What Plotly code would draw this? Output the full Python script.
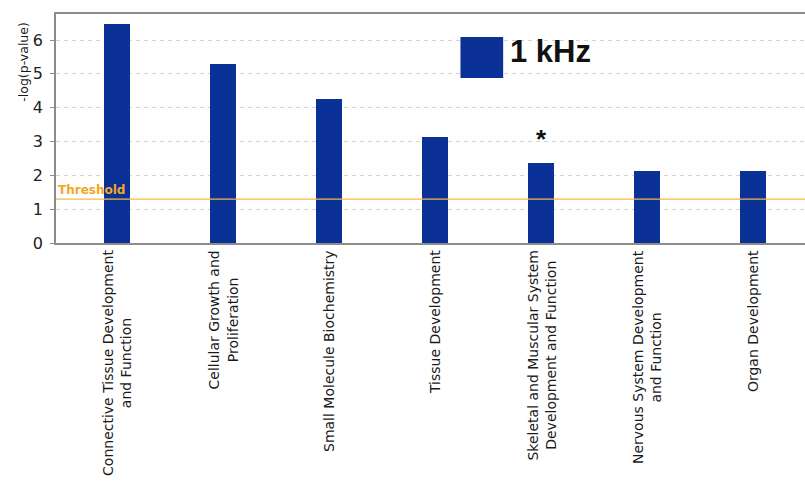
import plotly.graph_objects as go

categories = [
    "Connective Tissue Development<br>and Function",
    "Cellular Growth and<br>Proliferation",
    "Small Molecule Biochemistry",
    "Tissue Development",
    "Skeletal and Muscular System<br>Development and Function",
    "Nervous System Development<br>and Function",
    "Organ Development",
]
values = [6.47, 5.30, 4.26, 3.14, 2.37, 2.14, 2.14]
threshold = 1.3
y_ticks = [0, 1, 2, 3, 4, 5, 6]
significant_index = 4
series_name = "1 kHz"

BAR = "#0b3196"
ORANGE = "#f5a623"
FONT = "DejaVu Sans"

xs = list(range(len(categories)))

fig = go.Figure()
fig.add_trace(go.Bar(x=xs, y=values, width=0.24, marker=dict(color=BAR, line=dict(width=0)),
                     showlegend=False))

annotations = []
for i, cat in enumerate(categories):
    annotations.append(dict(x=i, y=0, xref="x", yref="paper", text=cat, textangle=-90,
                            showarrow=False, xanchor="center", yanchor="top", align="center",
                            yshift=-5,
                            font=dict(family=FONT, size=14, color="#1a1a1a")))

# asterisk
annotations.append(dict(x=significant_index, y=values[significant_index], xref="x", yref="y",
                        text="<b>*</b>", showarrow=False, yanchor="bottom", yshift=7,
                        font=dict(family="Liberation Sans", size=26, color="#111")))
# threshold label
annotations.append(dict(x=0, y=threshold, xref="paper", yref="y", text="<b>Threshold</b>",
                        showarrow=False, xanchor="left", yanchor="bottom", xshift=0, yshift=0,
                        font=dict(family=FONT, size=12, color=ORANGE)))
# y title
annotations.append(dict(x=0, y=0.975, xref="paper", yref="paper", text="-log(p-value)",
                        textangle=-90, showarrow=False, xanchor="center", yanchor="top",
                        xshift=-32, font=dict(family=FONT, size=12.5, color="#1a1a1a")))
# legend text
annotations.append(dict(x=0.603, y=0.835, xref="paper", yref="paper", text="<b>%s</b>" % series_name,
                        showarrow=False, xanchor="left", yanchor="middle",
                        font=dict(family="Liberation Sans", size=31, color="#111")))

shapes = [
    dict(type="line", xref="paper", yref="y", x0=0, x1=1, y0=threshold, y1=threshold,
         line=dict(color="#f2b84b", width=1.2), layer="above"),
    dict(type="rect", xref="paper", yref="paper", x0=0.540, x1=0.597, y0=0.72, y1=0.9,
         line=dict(width=0), fillcolor=BAR),
]

fig.update_layout(
    width=805, height=490,
    margin=dict(l=56, r=0, t=14, b=247),
    paper_bgcolor="white", plot_bgcolor="white",
    bargap=0,
    annotations=annotations, shapes=shapes,
    xaxis=dict(range=[-0.575, 6.49], showticklabels=False, ticks="", showgrid=False,
               showline=True, linecolor="#8c8c8c", linewidth=1.5, mirror=True, zeroline=False),
    yaxis=dict(range=[0, 6.77], tickvals=y_ticks, showgrid=True, gridcolor="#d4d4d4",
               griddash="4px,4px", gridwidth=1, showline=True, linecolor="#8c8c8c", linewidth=1.5,
               ticks="outside", ticklen=4, tickcolor="#8c8c8c", zeroline=False,
               tickfont=dict(family=FONT, size=16, color="#222"), ticklabelstandoff=4),
)

fig.write_html("out.html")
